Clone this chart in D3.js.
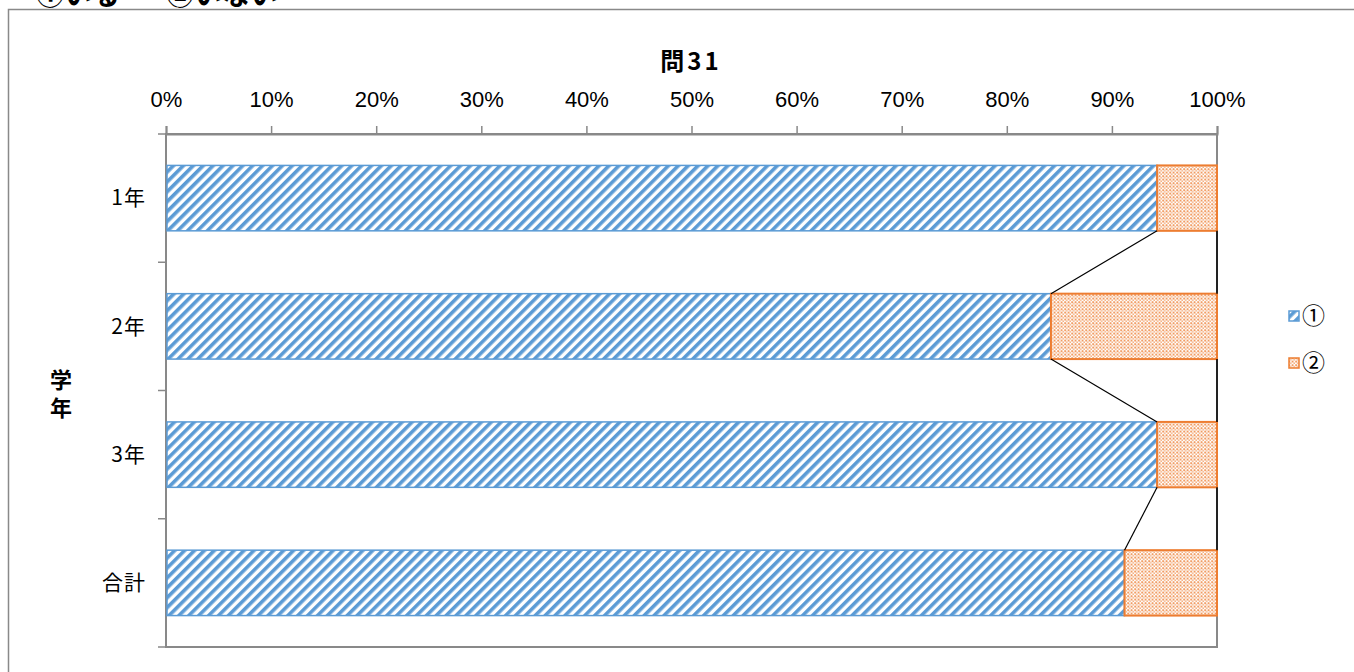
<!DOCTYPE html>
<html><head><meta charset="utf-8">
<script src="https://cdn.jsdelivr.net/npm/d3@7"></script>
<style>body{margin:0;background:#fff;overflow:hidden}</style>
</head><body>
<svg id="c" width="1354" height="672"></svg>
<script>
const categories = ["1年", "2年", "3年", "合計"];
const seriesNames = ["①", "②"];
const s1 = [0.943, 0.842, 0.943, 0.912];
const s2 = [0.057, 0.158, 0.057, 0.088];
const tickValues = [0,0.1,0.2,0.3,0.4,0.5,0.6,0.7,0.8,0.9,1.0];
const title = "問31";
const yTitle = "学年";
const header = ["①いる", "②いない"];

const svg = d3.select("#c");
const defs = svg.append("defs");
const blue = "#5B9BD5", orange = "#ED7D31", grey = "#898989";
const jp = "'Noto Sans CJK JP', sans-serif";

const ps = defs.append("pattern").attr("id","stripe").attr("patternUnits","userSpaceOnUse")
  .attr("width",7).attr("height",7).attr("patternTransform","rotate(45)");
ps.append("rect").attr("width",7).attr("height",7).attr("fill","#fff");
ps.append("rect").attr("width",3.6).attr("height",7).attr("fill",blue);
const pd = defs.append("pattern").attr("id","dots").attr("patternUnits","userSpaceOnUse")
  .attr("width",3.5).attr("height",3.5);
pd.append("rect").attr("width",3.5).attr("height",3.5).attr("fill","#fff");
pd.append("rect").attr("x",0.3).attr("y",0.3).attr("width",1.7).attr("height",1.7).attr("fill",orange);
pd.append("rect").attr("x",2.1).attr("y",2.1).attr("width",1.3).attr("height",1.3).attr("fill",orange).attr("opacity",0.8);

// outer frame
svg.append("rect").attr("x",8.5).attr("y",9.5).attr("width",1400).attr("height",700)
  .attr("fill","none").attr("stroke",grey).attr("stroke-width",1.5);

// header text (cut off at top, as in the source)
svg.append("text").attr("x",36).attr("y",5).attr("font-family",jp).attr("font-weight","bold")
  .attr("font-size",28).text(header[0]);
svg.append("text").attr("x",166).attr("y",5).attr("font-family",jp).attr("font-weight","bold")
  .attr("font-size",28).text(header[1]);

const x = d3.scaleLinear().domain([0,1]).range([166,1217]);
const y = d3.scaleBand().domain(categories).range([134,647]).paddingInner(0.49).paddingOuter(0.245);

// plot area border
svg.append("rect").attr("x",x(0)).attr("y",134).attr("width",x(1)-x(0)).attr("height",647-134)
  .attr("fill","none").attr("stroke",grey).attr("stroke-width",2);

// top axis
const ax = svg.append("g").attr("transform","translate(0,134)")
  .call(d3.axisTop(x).tickValues(tickValues).tickFormat(d3.format(".0%")).tickSize(8).tickPadding(19));
ax.select(".domain").attr("stroke",grey).attr("stroke-width",2);
ax.selectAll(".tick line").attr("stroke",grey).attr("stroke-width",1.5);
ax.selectAll(".tick text").attr("font-family","'Liberation Sans', sans-serif").attr("font-size",22).attr("fill","#000");

// left axis ticks (between categories)
const step = y.step();
const bnds = [134, 647].concat(categories.slice(0,3).map(c => y(c) + y.bandwidth() + (step - y.bandwidth())/2));
svg.selectAll(".ytick").data(bnds).join("line").attr("x1",158).attr("x2",166)
  .attr("y1",d=>d).attr("y2",d=>d).attr("stroke",grey).attr("stroke-width",1.5);
svg.selectAll(".ylab").data(categories).join("text")
  .attr("x",146).attr("y",c=>y(c)+y.bandwidth()/2).attr("dy","0.35em").attr("text-anchor","end")
  .attr("font-family",jp).attr("font-size",21).attr("letter-spacing",1).text(c=>c);

// bars
categories.forEach((c,i)=>{
  svg.append("rect").attr("x",x(0)+1).attr("y",y(c)).attr("width",x(s1[i])-x(0)-1).attr("height",y.bandwidth())
    .attr("fill","url(#stripe)").attr("stroke",blue).attr("stroke-width",1.5);
  svg.append("rect").attr("x",x(s1[i])).attr("y",y(c)).attr("width",x(s1[i]+s2[i])-x(s1[i])).attr("height",y.bandwidth())
    .attr("fill","url(#dots)").attr("stroke",orange).attr("stroke-width",2);
});

// series lines
for (let i=0;i<categories.length-1;i++){
  const yb = y(categories[i])+y.bandwidth(), yt = y(categories[i+1]);
  svg.append("line").attr("x1",x(s1[i])).attr("y1",yb).attr("x2",x(s1[i+1])).attr("y2",yt)
    .attr("stroke","#000").attr("stroke-width",1.2);
  svg.append("line").attr("x1",x(s1[i]+s2[i])).attr("y1",yb).attr("x2",x(s1[i+1]+s2[i+1])).attr("y2",yt)
    .attr("stroke","#000").attr("stroke-width",1.5);
}

// titles
svg.append("text").attr("x",691).attr("y",70).attr("text-anchor","middle").attr("font-family",jp)
  .attr("font-weight","bold").attr("font-size",24).attr("letter-spacing",3).text(title);
svg.append("text").attr("x",61).attr("y",369).attr("writing-mode","vertical-rl")
  .attr("font-family",jp).attr("font-weight","bold").attr("font-size",22).attr("letter-spacing",6).text(yTitle);

// legend
const lg = [{f:"url(#stripe)",s:blue,t:seriesNames[0],y:316},{f:"url(#dots)",s:orange,t:seriesNames[1],y:363}];
lg.forEach(d=>{
  svg.append("rect").attr("x",1289).attr("y",d.y-5).attr("width",10).attr("height",10)
    .attr("fill",d.f).attr("stroke",d.s).attr("stroke-width",1.5);
  svg.append("text").attr("x",1302).attr("y",d.y).attr("dy","0.36em").attr("font-family",jp)
    .attr("font-size",23).text(d.t);
});
</script>
</body></html>
